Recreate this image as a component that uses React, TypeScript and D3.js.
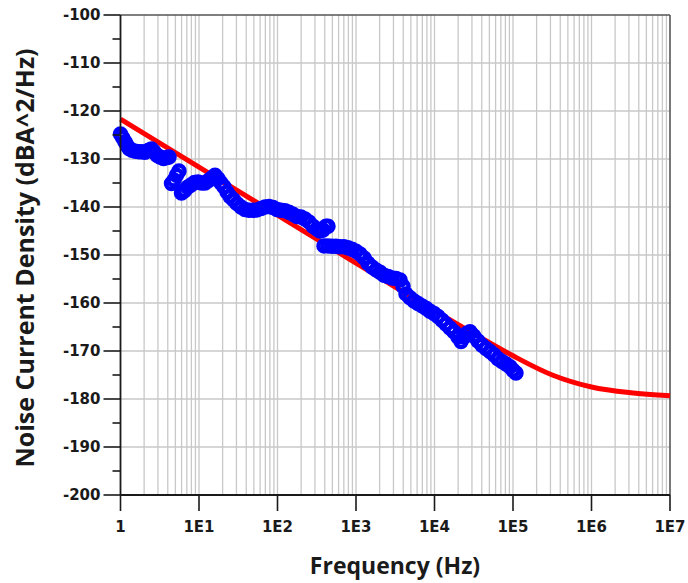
import React from "react";
import * as d3 from "d3";

// ---- data ----
const xTickLabels = ["1", "1E1", "1E2", "1E3", "1E4", "1E5", "1E6", "1E7"];
const yTickValues = [-100, -110, -120, -130, -140, -150, -160, -170, -180, -190, -200];

// model curve (red)
const modelLog10Freq = [0, 0.5, 1, 1.5, 2, 2.5, 3, 3.5, 4, 4.5, 5, 5.5, 6, 6.5, 7];
const modelDb = [-121.7, -126.7, -131.7, -136.7, -141.7, -146.7, -151.7, -156.7, -161.6, -166.4, -171.0, -175.0, -177.5, -178.7, -179.3];

const measLog10Freq = [
  0.0, 0.025, 0.057, 0.083, 0.108, 0.146, 0.191, 0.236, 0.274, 0.312,
  0.357, 0.395, 0.427, 0.465, 0.503, 0.548, 0.592, 0.618, 0.65, 0.682,
  0.713, 0.745, 0.777, 0.815, 0.854, 0.898, 0.943, 0.987, 1.032, 1.076,
  1.121, 1.166, 1.204, 1.242, 1.28, 1.318, 1.357, 1.395, 1.439, 1.484,
  1.535, 1.586, 1.637, 1.688, 1.739, 1.79, 1.841, 1.892, 1.943, 1.994,
  2.045, 2.096, 2.146, 2.197, 2.248, 2.299, 2.35, 2.401, 2.452, 2.503,
  2.541, 2.58, 2.618, 2.643, 2.592, 2.643, 2.694, 2.745, 2.796, 2.847,
  2.898, 2.949, 3.0, 3.051, 3.102, 3.153, 3.204, 3.255, 3.306, 3.357,
  3.408, 3.459, 3.51, 3.561, 3.599, 3.637, 3.688, 3.739, 3.79, 3.841,
  3.892, 3.943, 3.994, 4.045, 4.096, 4.146, 4.197, 4.248, 4.299, 4.338,
  4.376, 4.414, 4.452, 4.503, 4.554, 4.605, 4.656, 4.707, 4.758, 4.809,
  4.86, 4.911, 4.962, 5.0, 5.038,
];
const measDb = [
  -124.8, -125.5, -126.4, -127.2, -127.8, -128.2, -128.4, -128.5, -128.5, -128.6,
  -128.2, -127.9, -128.5, -129.2, -129.6, -129.9, -129.7, -129.6, -135.1, -134.4,
  -133.4, -132.5, -137.1, -136.6, -135.9, -135.4, -134.9, -134.8, -135.0, -135.0,
  -134.5, -133.9, -133.4, -134.1, -135.0, -135.8, -136.9, -137.8, -138.5, -139.3,
  -140.0, -140.5, -140.7, -140.7, -140.6, -140.3, -140.0, -139.9, -140.1, -140.5,
  -140.7, -140.8, -141.1, -141.5, -142.0, -142.1, -142.5, -143.1, -144.0, -144.6,
  -145.0, -144.8, -144.0, -144.0, -148.1, -148.1, -148.2, -148.2, -148.3, -148.3,
  -148.5, -148.8, -149.2, -149.8, -150.6, -151.7, -152.5, -153.1, -153.6, -154.2,
  -154.5, -154.8, -154.9, -155.2, -156.5, -158.1, -158.9, -159.6, -160.1, -160.6,
  -161.1, -161.7, -162.2, -162.8, -163.6, -164.4, -165.2, -166.0, -167.1, -168.0,
  -167.1, -166.3, -166.0, -166.9, -167.9, -168.8, -169.5, -170.1, -170.8, -171.6,
  -172.2, -172.7, -173.3, -174.0, -174.6,
];

const W = 688;
const H = 583;
const left = 120.5;
const right = 670;
const top = 15;
const bottom = 495;

export default function App() {
  const x = d3.scaleLog().domain([1, 1e7]).range([left, right]);
  const y = d3.scaleLinear().domain([-200, -100]).range([bottom, top]);

  const decades = d3.range(0, 7);
  const minorX: number[] = [];
  decades.forEach((d) => {
    for (let m = 2; m <= 9; m++) minorX.push(m * Math.pow(10, d));
  });
  const majorX = d3.range(0, 8).map((d) => Math.pow(10, d));
  const minorY = d3.range(-195, -100, 10);

  const model = modelLog10Freq.map((lf, i) => ({ f: Math.pow(10, lf), v: modelDb[i] }));
  const meas = measLog10Freq.map((lf, i) => ({ f: Math.pow(10, lf), v: measDb[i] }));

  const line = d3
    .line<{ f: number; v: number }>()
    .x((d) => x(d.f))
    .y((d) => y(d.v))
    .curve(d3.curveMonotoneX);

  const tickFont = "'DejaVu Sans', Verdana, sans-serif";
  const titleFont = "'Open Sans', Lato, sans-serif";
  const axisColor = "#1a1a1a";

  return (
    <svg width={W} height={H} style={{ position: "absolute", left: 0, top: 0, background: "#fff" }}>
      {/* vertical grid */}
      {minorX.map((f, i) => (
        <line key={"gx" + i} x1={x(f)} x2={x(f)} y1={top} y2={bottom} stroke="#c8c8c8" strokeWidth={1.3} />
      ))}
      {majorX.slice(1, 7).map((f, i) => (
        <line key={"gX" + i} x1={x(f)} x2={x(f)} y1={top} y2={bottom} stroke="#c8c8c8" strokeWidth={1.3} />
      ))}
      {/* horizontal grid */}
      {yTickValues.slice(1, 10).map((v, i) => (
        <line key={"gy" + i} x1={left} x2={right} y1={y(v)} y2={y(v)} stroke="#c8c8c8" strokeWidth={1.3} />
      ))}
      {/* frame top/right */}
      <line x1={left} x2={right} y1={top} y2={top} stroke="#555" strokeWidth={1.6} />
      <line x1={right} x2={right} y1={top} y2={bottom} stroke="#555" strokeWidth={1.6} />

      {/* model curve */}
      <path d={line(model) || ""} fill="none" stroke="#ff0000" strokeWidth={5} />

      {/* measured */}
      {meas.map((d, i) => (
        <circle key={"m" + i} cx={x(d.f)} cy={y(d.v)} r={5.5} fill="none" stroke="#0000ff" strokeWidth={4.5} />
      ))}

      {/* axes */}
      <line x1={left} x2={left} y1={top} y2={bottom} stroke={axisColor} strokeWidth={1.8} />
      <line x1={left} x2={right} y1={bottom} y2={bottom} stroke={axisColor} strokeWidth={1.8} />
      {yTickValues.map((v, i) => (
        <g key={"yt" + i}>
          <line x1={left - 17} x2={left} y1={y(v)} y2={y(v)} stroke={axisColor} strokeWidth={1.6} />
          <text
            x={left - 20}
            y={y(v)}
            dy="0.36em"
            textAnchor="end"
            fontFamily={tickFont}
            fontWeight="bold"
            fontSize={15}
            fill="#1a1a1a"
          >
            {v}
          </text>
        </g>
      ))}
      {minorY.map((v, i) => (
        <line key={"ym" + i} x1={left - 8} x2={left} y1={y(v)} y2={y(v)} stroke={axisColor} strokeWidth={1.6} />
      ))}
      {majorX.map((f, i) => (
        <g key={"xt" + i}>
          <line x1={x(f)} x2={x(f)} y1={bottom} y2={bottom + 16} stroke={axisColor} strokeWidth={1.6} />
          <text
            x={x(f)}
            y={bottom + 32}
            dy="0.36em"
            textAnchor="middle"
            fontFamily={tickFont}
            fontWeight="bold"
            fontSize={15}
            fill="#1a1a1a"
          >
            {xTickLabels[i]}
          </text>
        </g>
      ))}

      {/* titles */}
      <text
        x={395}
        y={566}
        dy="0.36em"
        textAnchor="middle"
        fontFamily={titleFont}
        fontWeight="bold"
        fontSize={23}
        fill="#1a1a1a"
      >
        Frequency (Hz)
      </text>
      <text
        transform="translate(25,258) rotate(-90)"
        dy="0.36em"
        textAnchor="middle"
        fontFamily={titleFont}
        fontWeight="bold"
        fontSize={25}
        fill="#1a1a1a"
      >
        Noise Current Density (dBA^2/Hz)
      </text>
    </svg>
  );
}
